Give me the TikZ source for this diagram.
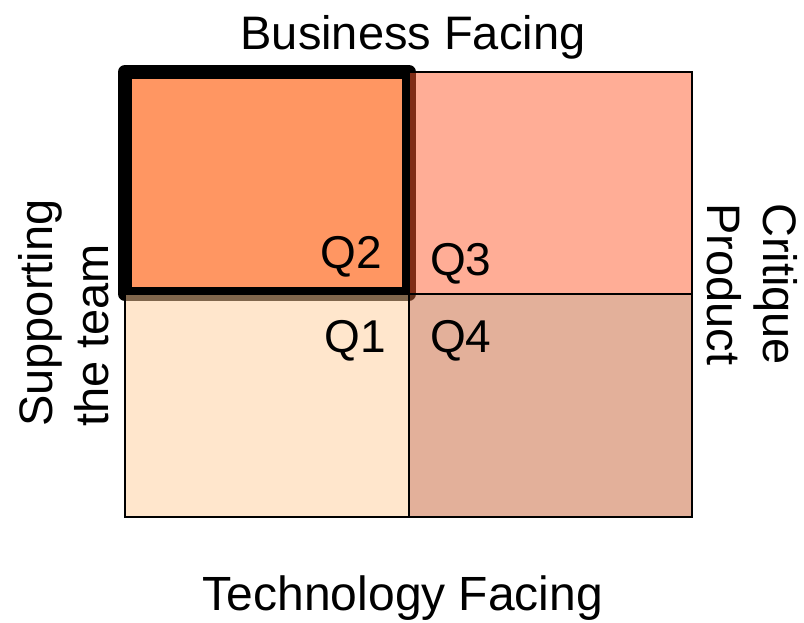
\documentclass[tikz,border=0pt]{standalone}
\usepackage{fontspec}
\setmainfont{Liberation Sans}
\usetikzlibrary{positioning,calc}
\definecolor{qtwo}{RGB}{255,150,98}
\definecolor{qone}{RGB}{255,205,153}
\definecolor{qthree}{RGB}{255,91,45}
\definecolor{qfour}{RGB}{199,97,53}
\begin{document}
\begin{tikzpicture}[x=1pt, y=-1pt, quad node/.style={rectangle,draw=black,line width=1.2pt,inner sep=0pt,outer sep=0pt,anchor=north west},over node/.style={quad node,fill opacity=0.5},big text/.style={font=\fontsize{47}{56}\selectfont,inner sep=0pt},q text/.style={font=\fontsize{46}{52}\selectfont,inner sep=0pt}]
\useasboundingbox (0,0) rectangle (804,623);
% quadrants
\node[quad node,fill=qtwo,minimum width=284pt,minimum height=222pt] (q2) at (125,72) {};
\draw[line width=14pt,line join=round] (q2.north west) rectangle (q2.south east);
\node[over node,fill=qone,minimum width=284pt,minimum height=223pt] (q1) at (125,294) {};
\node[over node,fill=qthree,minimum width=283pt,minimum height=222pt] (q3) at (409,72) {};
\node[over node,fill=qfour,minimum width=283pt,minimum height=223pt] (q4) at (409,294) {};
\begin{scope}[every node/.style={q text}]
\node[anchor=base east] (l2) at (382,268) {Q2};
\node[anchor=base east] (l1) at (386,352) {Q1};
\node[anchor=base west] (l3) at (430,276) {Q3};
\node[anchor=base west] (l4) at (430,352) {Q4};
\end{scope}
\begin{scope}[every node/.style={big text}]
\node[anchor=base] (top) at (413,50) {Business Facing};
\node[anchor=base,font=\fontsize{48}{56}\selectfont] (bottom) at (403,610) {Technology Facing};
\node[rotate=90,align=left,anchor=west] (left) at (64,427) {Supporting\\the team};
\node[rotate=-90,align=left,anchor=west] (right) at (752,203) {Critique\\Product};
\end{scope}
\end{tikzpicture}
\end{document}
